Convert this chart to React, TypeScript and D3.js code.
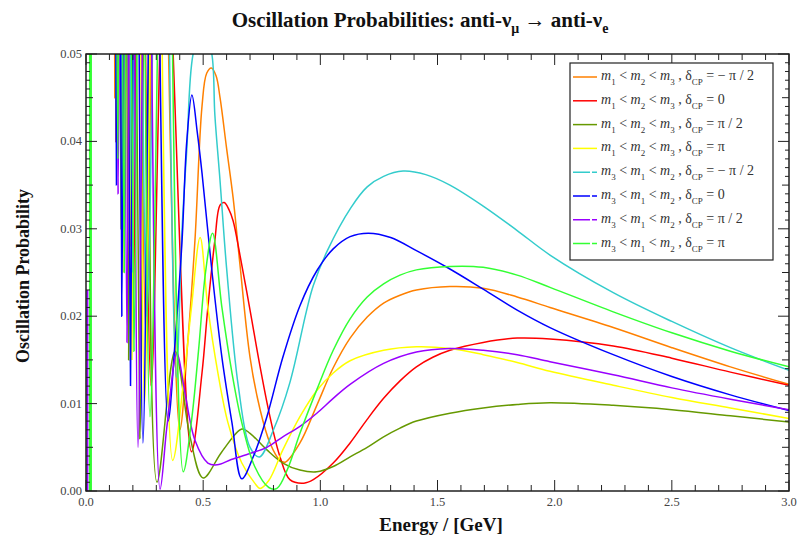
import React from 'react';
import * as d3 from 'd3';

// ---------- DATA ----------
const xMajorTicks = [0, 0.5, 1.0, 1.5, 2.0, 2.5, 3.0];
const yMajorTicks = [0, 0.01, 0.02, 0.03, 0.04, 0.05];

const hierarchyOrders = [['1', '2', '3'], ['3', '1', '2']];
const deltaLabels = ['− π / 2', '0', 'π / 2', 'π'];
const seriesColors = ['#FF8000', '#FF0000', '#669900', '#FFFF00', '#33CCCC', '#0000FF', '#9900FF', '#33FF33'];

// [energy GeV, probability]
const nhMinusHalfPi = [
  [0.11, 0.2], [0.123, 0.045], [0.135, 0.1], [0.149, 0.038], [0.167, 0.1], [0.189, 0.028], [0.217, 0.1],
  [0.256, 0.018], [0.31, 0.095], [0.40, 0.007], [0.435, 0.0173], [0.465, 0.0287], [0.495, 0.044],
  [0.515, 0.0478], [0.535, 0.0484], [0.555, 0.0475], [0.572, 0.045], [0.6, 0.0392], [0.628, 0.0335],
  [0.657, 0.0259], [0.70, 0.0153], [0.743, 0.0093], [0.785, 0.0055], [0.828, 0.0035], [0.85, 0.0033],
  [0.913, 0.0055], [0.985, 0.0098], [1.055, 0.0141], [1.127, 0.0175], [1.2, 0.0199], [1.27, 0.0215],
  [1.34, 0.0224], [1.41, 0.023], [1.553, 0.0234], [1.695, 0.0232], [1.84, 0.0222], [1.98, 0.021],
  [2.25, 0.0187], [2.5, 0.0164], [2.75, 0.0142], [3.0, 0.0122],
];
const nhZero = [
  [0.11, 0.2], [0.128, 0.04], [0.141, 0.1], [0.156, 0.03], [0.175, 0.1], [0.2, 0.02], [0.233, 0.1],
  [0.278, 0.012], [0.34, 0.065], [0.45, 0.0045], [0.495, 0.0135], [0.52, 0.021], [0.55, 0.0287],
  [0.572, 0.0327], [0.59, 0.033], [0.61, 0.0322], [0.628, 0.0309], [0.657, 0.027], [0.70, 0.0207],
  [0.743, 0.0142], [0.785, 0.0085], [0.828, 0.0039], [0.87, 0.0013], [0.93, 0.0009], [0.97, 0.0013],
  [1.055, 0.0032], [1.127, 0.0055], [1.2, 0.0082], [1.27, 0.0106], [1.34, 0.0126], [1.41, 0.0142],
  [1.48, 0.0153], [1.553, 0.0161], [1.695, 0.017], [1.84, 0.0175], [1.98, 0.0174], [2.25, 0.0166],
  [2.5, 0.0152], [2.75, 0.0136], [3.0, 0.0121],
];
const nhHalfPi = [
  [0.11, 0.2], [0.128, 0.045], [0.138, 0.1], [0.15, 0.03], [0.165, 0.1], [0.182, 0.015], [0.2, 0.1],
  [0.23, 0.006], [0.26, 0.09], [0.303, 0.001], [0.38, 0.016], [0.444, 0.0062], [0.5, 0.0015],
  [0.58, 0.0045], [0.665, 0.0071], [0.70, 0.0066], [0.772, 0.0047], [0.84, 0.0032], [0.913, 0.0024],
  [0.985, 0.0022], [1.055, 0.0028], [1.127, 0.0039], [1.2, 0.005], [1.27, 0.0062], [1.34, 0.0072],
  [1.41, 0.008], [1.553, 0.0089], [1.695, 0.0095], [1.84, 0.0099], [1.98, 0.0101], [2.25, 0.0098],
  [2.5, 0.0093], [2.75, 0.0086], [3.0, 0.0079],
];
const nhPi = [
  [0.11, 0.2], [0.123, 0.1], [0.133, 0.04], [0.145, 0.1], [0.158, 0.025], [0.176, 0.1], [0.196, 0.015],
  [0.22, 0.1], [0.25, 0.01], [0.3, 0.09], [0.37, 0.0035], [0.42, 0.0135], [0.45, 0.021], [0.487, 0.029],
  [0.52, 0.021], [0.563, 0.0135], [0.606, 0.0078], [0.665, 0.0032], [0.72, 0.0009], [0.743, 0.0003],
  [0.78, 0.0012], [0.84, 0.0047], [0.913, 0.0085], [0.985, 0.0115], [1.055, 0.0135], [1.127, 0.0149],
  [1.27, 0.0161], [1.41, 0.0165], [1.553, 0.0163], [1.695, 0.0156], [1.84, 0.0147], [1.98, 0.0137],
  [2.25, 0.0121], [2.5, 0.0107], [2.75, 0.0095], [3.0, 0.0083],
];
const ihMinusHalfPi = [
  [0.11, 0.2], [0.13, 0.04], [0.143, 0.1], [0.157, 0.03], [0.175, 0.1], [0.196, 0.025], [0.22, 0.1],
  [0.26, 0.02], [0.32, 0.1], [0.385, 0.013], [0.41, 0.03], [0.43, 0.039], [0.457, 0.05], [0.5, 0.0535],
  [0.537, 0.05], [0.55, 0.043], [0.572, 0.0355], [0.6, 0.0255], [0.65, 0.012], [0.7, 0.005],
  [0.74, 0.0039], [0.8, 0.007], [0.87, 0.0124], [0.94, 0.0205], [0.97, 0.0235], [1.03, 0.0275],
  [1.13, 0.0324], [1.2, 0.0348], [1.27, 0.036], [1.353, 0.0366], [1.45, 0.0362], [1.553, 0.035],
  [1.695, 0.0326], [1.84, 0.0298], [1.98, 0.027], [2.25, 0.0227], [2.5, 0.0194], [2.75, 0.0164],
  [3.0, 0.0138],
];
const ihZero = [
  [0.11, 0.2], [0.13, 0.035], [0.14, 0.1], [0.153, 0.02], [0.17, 0.1], [0.19, 0.012], [0.213, 0.1],
  [0.243, 0.0055], [0.29, 0.09], [0.35, 0.008], [0.38, 0.017], [0.41, 0.0287], [0.43, 0.04],
  [0.452, 0.0453], [0.475, 0.041], [0.495, 0.0364], [0.538, 0.025], [0.58, 0.0153], [0.623, 0.0078],
  [0.665, 0.0014], [0.715, 0.004], [0.772, 0.0085], [0.84, 0.0153], [0.913, 0.0212], [0.985, 0.0252],
  [1.055, 0.0277], [1.127, 0.0291], [1.205, 0.0295], [1.3, 0.029], [1.41, 0.0275], [1.54, 0.0256],
  [1.695, 0.0231], [1.84, 0.0207], [1.98, 0.0187], [2.25, 0.0156], [2.5, 0.0131], [2.75, 0.011],
  [3.0, 0.0092],
];
const ihHalfPi = [
  [0.11, 0.2], [0.125, 0.1], [0.137, 0.034], [0.155, 0.1], [0.175, 0.017], [0.195, 0.1], [0.222, 0.005],
  [0.26, 0.09], [0.316, 0.0002], [0.345, 0.0073], [0.388, 0.0158], [0.42, 0.0116], [0.465, 0.0058],
  [0.52, 0.0032], [0.56, 0.003], [0.62, 0.0036], [0.70, 0.0043], [0.772, 0.005], [0.84, 0.0062],
  [0.913, 0.0074], [0.985, 0.0089], [1.055, 0.0106], [1.127, 0.0122], [1.27, 0.0146], [1.41, 0.0159],
  [1.553, 0.0163], [1.695, 0.0161], [1.84, 0.0156], [1.98, 0.0148], [2.25, 0.0133], [2.5, 0.0118],
  [2.75, 0.0105], [3.0, 0.0093],
];
const ihPi = [
  [0.11, 0.2], [0.125, 0.1], [0.136, 0.038], [0.148, 0.1], [0.163, 0.025], [0.18, 0.1], [0.205, 0.016],
  [0.235, 0.1], [0.273, 0.0085], [0.34, 0.09], [0.415, 0.0022], [0.45, 0.008], [0.48, 0.016],
  [0.51, 0.025], [0.54, 0.0295], [0.58, 0.021], [0.623, 0.0135], [0.665, 0.0078], [0.72, 0.0028],
  [0.78, 0.0004], [0.815, 0.0003], [0.86, 0.0025], [0.913, 0.0066], [0.985, 0.0116], [1.055, 0.0161],
  [1.127, 0.0197], [1.2, 0.0222], [1.27, 0.0237], [1.34, 0.0247], [1.41, 0.0253], [1.553, 0.0257],
  [1.695, 0.0256], [1.84, 0.0247], [1.98, 0.0233], [2.25, 0.0205], [2.5, 0.0181], [2.75, 0.016],
  [3.0, 0.0142],
];
// near-zero-energy sampling spikes
const ihPiSpike = [[0.019, 0], [0.019, 0.06]];
const ihHalfPiSpike = [[0.006, 0], [0.006, 0.023]];

const allSeries = [nhMinusHalfPi, nhZero, nhHalfPi, nhPi, ihMinusHalfPi, ihZero, ihHalfPi, ihPi];

// ---------- LAYOUT ----------
const W = 799, H = 543;
const left = 86, right = 789, top = 54, bottom = 491;

export default function App() {
  const x = d3.scaleLinear().domain([0, 3]).range([left, right]);
  const y = d3.scaleLinear().domain([0, 0.05]).range([bottom, top]);
  const line = d3.line<number[]>().x(d => x(d[0])).y(d => y(d[1])).curve(d3.curveCatmullRom.alpha(0.5));
  const straight = d3.line<number[]>().x(d => x(d[0])).y(d => y(d[1]));

  const xMinor = d3.range(0, 31).map(i => i / 10);
  const yMinor = d3.range(0, 51).map(i => i / 1000);
  const serif = '"Liberation Serif", "DejaVu Serif", serif';

  const tickStroke = '#222';
  const legendX = 570, legendY = 63, legendW = 203, legendH = 197, rowH = 23.8;

  return (
    <svg width={W} height={H} style={{ position: 'absolute', left: 0, top: 0, background: '#fff' }}>
      <defs>
        <clipPath id="plotClip">
          <rect x={left} y={top} width={right - left} height={bottom - top} />
        </clipPath>
      </defs>
      <rect x={0} y={0} width={W} height={H} fill="#fff" />

      {/* title */}
      <text x={420} y={27} textAnchor="middle" fontFamily={serif} fontWeight="bold" fontSize={21} fill="#111">
        Oscillation Probabilities: anti-ν<tspan dy={6} fontSize={14}>μ</tspan>
        <tspan dy={-6}> → anti-ν</tspan><tspan dy={6} fontSize={14}>e</tspan>
      </text>

      {/* curves */}
      <g clipPath="url(#plotClip)" fill="none" strokeWidth={1.5}>
        {allSeries.map((s, i) => (
          <path key={i} d={line(s) || ''} stroke={seriesColors[i]} />
        ))}
        <path d={straight(ihHalfPiSpike) || ''} stroke={seriesColors[6]} strokeWidth={2} />
        <path d={straight(ihPiSpike) || ''} stroke={seriesColors[7]} strokeWidth={3} />
      </g>

      {/* frame */}
      <rect x={left} y={top} width={right - left} height={bottom - top} fill="none" stroke="#111" strokeWidth={1.4} />

      {/* x ticks */}
      {xMinor.map((v, i) => {
        const major = i % 5 === 0;
        const len = major ? 11 : 6;
        return (
          <g key={'xt' + i} stroke={tickStroke} strokeWidth={1}>
            <line x1={x(v)} x2={x(v)} y1={bottom} y2={bottom - len} />
            <line x1={x(v)} x2={x(v)} y1={top} y2={top + len} />
          </g>
        );
      })}
      {/* y ticks */}
      {yMinor.map((v, i) => {
        const len = i % 10 === 0 ? 11 : i % 5 === 0 ? 7 : 4;
        return (
          <g key={'yt' + i} stroke={tickStroke} strokeWidth={1}>
            <line x1={left} x2={left + len} y1={y(v)} y2={y(v)} />
            <line x1={right} x2={right - len} y1={y(v)} y2={y(v)} />
          </g>
        );
      })}

      {/* tick labels */}
      {xMajorTicks.map(v => (
        <text key={'xl' + v} x={x(v)} y={bottom + 15} textAnchor="middle" fontFamily={serif} fontSize={12.5} fill="#444">
          {v.toFixed(1)}
        </text>
      ))}
      {yMajorTicks.map(v => (
        <text key={'yl' + v} x={left - 4} y={y(v) + 4} textAnchor="end" fontFamily={serif} fontSize={12.5} fill="#444">
          {v.toFixed(2)}
        </text>
      ))}

      {/* axis titles */}
      <text x={441} y={531} textAnchor="middle" fontFamily={serif} fontWeight="bold" fontSize={19} fill="#111">
        Energy / [GeV]
      </text>
      <text transform={`translate(29, 276) rotate(-90)`} textAnchor="middle" fontFamily={serif}
        fontWeight="bold" fontSize={18} fill="#111">
        Oscillation Probability
      </text>

      {/* legend */}
      <rect x={legendX} y={legendY} width={legendW} height={legendH} fill="#fff" stroke="#222" strokeWidth={1.2} />
      {seriesColors.map((c, i) => {
        const order = hierarchyOrders[Math.floor(i / 4)];
        const delta = deltaLabels[i % 4];
        const ry = legendY + 14 + i * rowH;
        const dashed = i >= 4;
        return (
          <g key={'lg' + i}>
            <line x1={legendX + 3} x2={legendX + 27} y1={ry} y2={ry} stroke={c} strokeWidth={1.5}
              strokeDasharray={dashed ? '17 2 5 0' : undefined} />
            <text x={legendX + 31} y={ry + 3} fontFamily={serif} fontSize={14} fill="#333">
              <tspan fontStyle="italic">m</tspan><tspan dy={5} fontSize={9}>{order[0]}</tspan>
              <tspan dy={-5}> &lt; </tspan><tspan fontStyle="italic">m</tspan><tspan dy={5} fontSize={9}>{order[1]}</tspan>
              <tspan dy={-5}> &lt; </tspan><tspan fontStyle="italic">m</tspan><tspan dy={5} fontSize={9}>{order[2]}</tspan>
              <tspan dy={-5}> , δ</tspan><tspan dy={5} fontSize={9}>CP</tspan>
              <tspan dy={-5}> = {delta}</tspan>
            </text>
          </g>
        );
      })}
    </svg>
  );
}
